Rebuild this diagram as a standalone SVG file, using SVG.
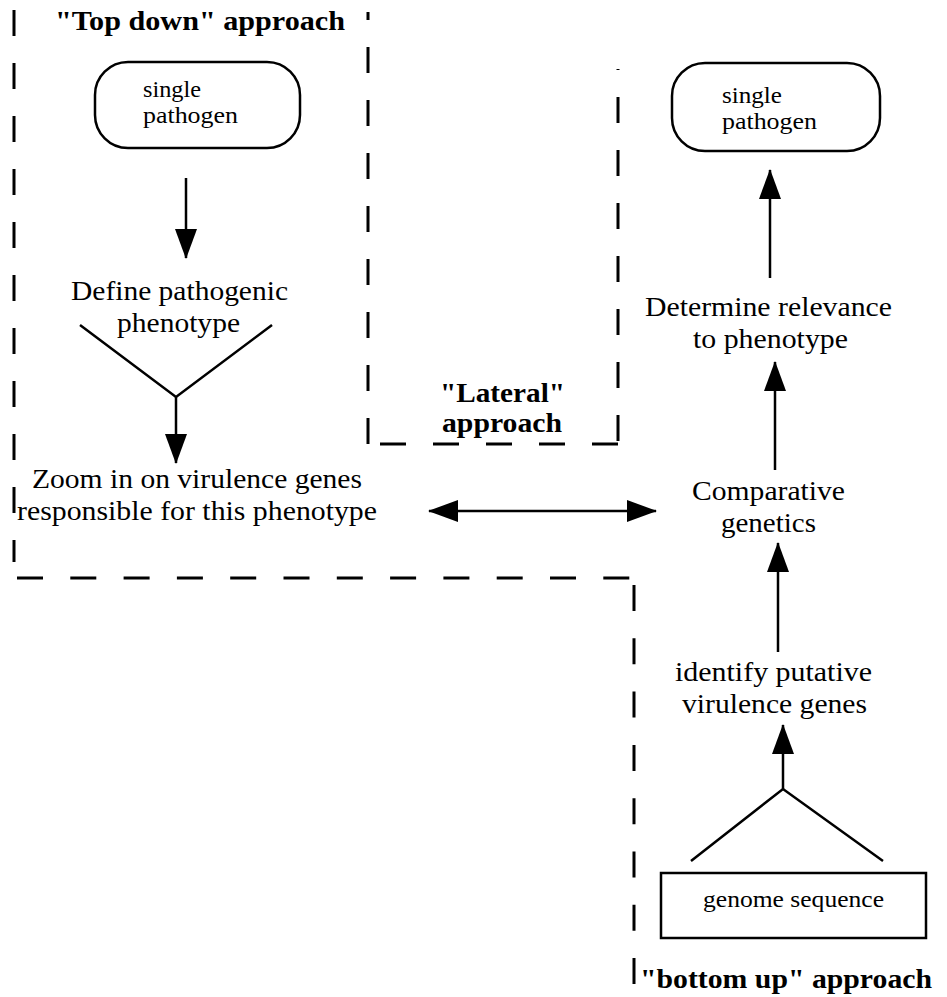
<svg xmlns="http://www.w3.org/2000/svg" width="947" height="997" viewBox="0 0 947 997">
<style>
.bg{fill:#fff}
.dash{fill:none;stroke:#000;stroke-width:3;stroke-dasharray:26 27}
.node{fill:#fff;stroke:#000;stroke-width:2.5}
.conn{fill:none;stroke:#000;stroke-width:2.5}
.t{font-family:"Liberation Serif","Times New Roman",serif;fill:#000}
.big{font-size:28px}
.small{font-size:23px}
.bold{font-size:27px;font-weight:bold}
</style>
<defs>
<marker id="ah" viewBox="0 0 30 22" refX="29" refY="11" markerWidth="30" markerHeight="22" markerUnits="userSpaceOnUse" orient="auto-start-reverse">
<path d="M0,0 L30,11 L0,22 Z" fill="#000"/>
</marker>
</defs>
<rect class="bg" x="0" y="0" width="947" height="997"/>

<g id="regions">
<line class="dash" x1="14" y1="10" x2="14" y2="562"/>
<line class="dash" x1="368" y1="12" x2="368" y2="445" stroke-dashoffset="18"/>
<line class="dash" x1="17" y1="578" x2="632" y2="578" style="stroke-dasharray:26 27.3"/>
<line class="dash" x1="634" y1="585" x2="634" y2="984" style="stroke-dasharray:26 27.3"/>
<line class="dash" x1="618" y1="69" x2="618" y2="444" stroke-dashoffset="25"/>
<line class="dash" x1="380" y1="444" x2="618" y2="444"/>
<text class="t bold" x="55" y="30" textLength="290" lengthAdjust="spacingAndGlyphs">"Top down" approach</text>
<text class="t bold" x="440" y="402" textLength="125" lengthAdjust="spacingAndGlyphs">"Lateral"</text>
<text class="t bold" x="442" y="432" textLength="120" lengthAdjust="spacingAndGlyphs">approach</text>
<text class="t bold" x="640" y="988" textLength="292" lengthAdjust="spacingAndGlyphs">"bottom up" approach</text>
</g>

<g id="connectors">
<line class="conn" x1="186" y1="178" x2="186" y2="258" marker-end="url(#ah)"/>
<polyline class="conn" points="80,325 176,397 272,325"/>
<line class="conn" x1="176" y1="396" x2="176" y2="463" marker-end="url(#ah)"/>
<line class="conn" x1="429" y1="511" x2="656" y2="511" marker-start="url(#ah)" marker-end="url(#ah)"/>
<line class="conn" x1="770" y1="278" x2="770" y2="170" marker-end="url(#ah)"/>
<line class="conn" x1="775" y1="470" x2="775" y2="362" marker-end="url(#ah)"/>
<line class="conn" x1="778" y1="652" x2="778" y2="543" marker-end="url(#ah)"/>
<polyline class="conn" points="691,861 783,789 883,861"/>
<line class="conn" x1="783" y1="790" x2="783" y2="725" marker-end="url(#ah)"/>
</g>

<g id="node-pathogen-left">
<rect class="node" x="95" y="62" width="205" height="86" rx="33" ry="33"/>
<text class="t small" x="143" y="97" textLength="58" lengthAdjust="spacingAndGlyphs">single</text>
<text class="t small" x="143" y="123" textLength="95" lengthAdjust="spacingAndGlyphs">pathogen</text>
</g>

<g id="node-define">
<text class="t big" x="71" y="300" textLength="217" lengthAdjust="spacingAndGlyphs">Define pathogenic</text>
<text class="t big" x="117" y="332" textLength="123" lengthAdjust="spacingAndGlyphs">phenotype</text>
</g>

<g id="node-zoom">
<text class="t big" x="32" y="488" textLength="330" lengthAdjust="spacingAndGlyphs">Zoom in on virulence genes</text>
<text class="t big" x="17" y="520" textLength="360" lengthAdjust="spacingAndGlyphs">responsible for this phenotype</text>
</g>

<g id="node-pathogen-right">
<rect class="node" x="672" y="63" width="208" height="88" rx="33" ry="33"/>
<text class="t small" x="722" y="103" textLength="60" lengthAdjust="spacingAndGlyphs">single</text>
<text class="t small" x="722" y="129" textLength="95" lengthAdjust="spacingAndGlyphs">pathogen</text>
</g>

<g id="node-determine">
<text class="t big" x="645" y="316" textLength="247" lengthAdjust="spacingAndGlyphs">Determine relevance</text>
<text class="t big" x="693" y="348" textLength="155" lengthAdjust="spacingAndGlyphs">to phenotype</text>
</g>

<g id="node-comparative">
<text class="t big" x="692" y="500" textLength="153" lengthAdjust="spacingAndGlyphs">Comparative</text>
<text class="t big" x="721" y="532" textLength="95" lengthAdjust="spacingAndGlyphs">genetics</text>
</g>

<g id="node-identify">
<text class="t big" x="675" y="681" textLength="197" lengthAdjust="spacingAndGlyphs">identify putative</text>
<text class="t big" x="682" y="713" textLength="185" lengthAdjust="spacingAndGlyphs">virulence genes</text>
</g>

<g id="node-genome">
<rect class="node" x="661" y="873" width="265" height="65"/>
<text class="t small" x="703" y="907" textLength="181" lengthAdjust="spacingAndGlyphs">genome sequence</text>
</g>
</svg>
